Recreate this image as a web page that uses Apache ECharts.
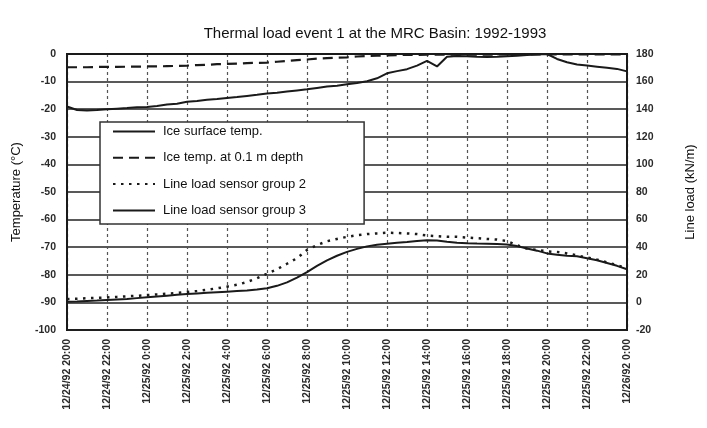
<!DOCTYPE html>
<html>
<head>
<meta charset="utf-8">
<script src="https://cdn.jsdelivr.net/npm/echarts@6/dist/echarts.min.js"></script>
<style>
  html, body { margin: 0; padding: 0; background: #ffffff; }
  #chart { width: 707px; height: 428px; }
</style>
</head>
<body>
<div id="chart"></div>
<script>
// Half-hour time slots from 12/24/92 20:00 to 12/26/92 0:00
var startDay = 24, startHour = 20, slotCount = 57;
var timeSlots = [];
for (var s = 0; s < slotCount; s++) {
  var totalMin = startHour * 60 + s * 30;
  var day = startDay + Math.floor(totalMin / 1440);
  var minOfDay = totalMin % 1440;
  var hh = Math.floor(minOfDay / 60), mm = minOfDay % 60;
  timeSlots.push('12/' + day + '/92 ' + hh + ':' + (mm < 10 ? '0' + mm : mm));
}

// Temperatures (°C), left axis
var iceSurfaceTemp = [
  -19.0, -20.3, -20.5, -20.3, -20.0, -19.8, -19.6, -19.3, -19.2, -18.8,
  -18.3, -18.0, -17.3, -17.0, -16.6, -16.3, -15.9, -15.6, -15.2, -14.8,
  -14.3, -14.0, -13.6, -13.2, -12.8, -12.3, -11.8, -11.5, -11.0, -10.5,
  -9.9, -8.8, -7.0, -6.2, -5.5, -4.2, -2.5, -4.5, -1.0, -0.7,
  -0.8, -1.0, -1.1, -1.0, -0.8, -0.6, -0.4, -0.2, 0.0, -1.8,
  -3.0, -3.8, -4.2, -4.6, -5.0, -5.4, -6.3
];
var iceTempDepth = [
  -4.8, -4.8, -4.8, -4.7, -4.7, -4.7, -4.6, -4.6, -4.5, -4.5,
  -4.4, -4.3, -4.2, -4.0, -3.9, -3.7, -3.6, -3.5, -3.3, -3.2,
  -3.1, -2.8, -2.5, -2.2, -2.0, -1.7, -1.5, -1.3, -1.2, -0.9,
  -0.7, -0.6, -0.5, -0.4, -0.3, -0.3, -0.2, -0.2, -0.2, -0.2,
  -0.2, -0.2, -0.2, -0.2, -0.1, -0.1, -0.1, -0.1, -0.1, -0.1,
  -0.1, -0.1, -0.1, -0.1, -0.1, -0.1, -0.1
];

// Line loads (kN/m), right axis
var loadGroup2 = [
  2.5, 2.7, 3.0, 3.3, 3.6, 4.0, 4.4, 4.8, 5.3, 5.8,
  6.3, 6.8, 7.6, 8.3, 9.2, 10.2, 11.4, 12.8, 14.8, 17.5,
  20.8, 24.0, 28.0, 32.0, 38.0, 41.5, 44.3, 46.0, 47.5, 48.7,
  49.5, 50.0, 50.5, 50.3, 50.0, 49.5, 48.5, 48.0, 47.5, 47.5,
  47.0, 46.5, 46.0, 45.5, 44.5, 41.5, 39.0, 38.0, 37.0, 36.5,
  35.5, 34.0, 32.5, 31.0, 29.0, 27.0, 24.5
];
var loadGroup3 = [
  0.5, 0.7, 1.0, 1.3, 1.7, 2.1, 2.5, 3.1, 3.7, 4.3,
  4.9, 5.5, 6.0, 6.5, 7.0, 7.4, 7.8, 8.2, 8.6, 9.3,
  10.3, 12.0, 14.5, 18.0, 22.0, 26.5, 30.5, 33.8, 36.6, 38.8,
  40.6, 41.8, 42.5, 43.2, 43.8, 44.5, 45.0, 44.8, 44.0, 43.3,
  42.8, 42.6, 42.5, 42.3, 42.0, 40.8, 39.0, 37.5, 35.5, 34.5,
  33.8, 33.5, 32.0, 30.5, 28.5, 26.5, 24.0
];

var seriesNames = [
  'Ice surface temp.',
  'Ice temp. at 0.1 m depth',
  'Line load sensor group 2',
  'Line load sensor group 3'
];

var ink = '#1a1a1a';
var fontFamily = '"Liberation Sans", Arial, sans-serif';

var chart = echarts.init(document.getElementById('chart'));
chart.setOption({
  animation: false,
  backgroundColor: '#ffffff',
  title: {
    text: 'Thermal load event 1 at the MRC Basin: 1992-1993',
    left: 370, top: 21, textAlign: 'center',
    textStyle: { fontFamily: fontFamily, fontSize: 15, fontWeight: 'normal', color: '#111' }
  },
  legend: {
    orient: 'vertical',
    left: 100, top: 122,
    padding: [3, 58, 7, 12],
    itemWidth: 42, itemHeight: 14, itemGap: 13.3,
    backgroundColor: '#ffffff',
    borderColor: '#333', borderWidth: 1.5,
    itemStyle: { opacity: 0 },
    data: seriesNames,
    textStyle: { fontFamily: fontFamily, fontSize: 13, color: '#111', padding: [0, 0, 0, 3] }
  },
  grid: {
    left: 67, right: 80, top: 54, bottom: 98,
    show: true, borderColor: ink, borderWidth: 2, backgroundColor: '#ffffff'
  },
  xAxis: {
    type: 'category',
    data: timeSlots,
    boundaryGap: false,
    axisLine: { show: true, lineStyle: { color: ink, width: 2 } },
    axisTick: { show: false },
    axisLabel: {
      interval: 3, rotate: 90, margin: 9,
      fontFamily: fontFamily, fontSize: 10.5, fontWeight: 'bold', color: '#2a2a2a'
    },
    splitLine: {
      show: true, interval: 3,
      lineStyle: { color: '#555', width: 1.2, type: [3, 3] }
    }
  },
  yAxis: [
    {
      type: 'value', min: -100, max: 0, interval: 10,
      name: 'Temperature (°C)', nameLocation: 'middle', nameGap: 44, nameRotate: 90,
      nameTextStyle: { fontFamily: fontFamily, fontSize: 13, color: '#111' },
      axisLine: { show: true, lineStyle: { color: ink, width: 2 } },
      axisTick: { show: false },
      axisLabel: { margin: 11, fontFamily: fontFamily, fontSize: 10.5, fontWeight: 'bold', color: '#2a2a2a' },
      splitLine: { show: true, lineStyle: { color: '#222', width: 1.6 } }
    },
    {
      type: 'value', min: -20, max: 180, interval: 20,
      name: 'Line load (kN/m)', nameLocation: 'middle', nameGap: 57, nameRotate: 90,
      nameTextStyle: { fontFamily: fontFamily, fontSize: 13, color: '#111' },
      axisLine: { show: true, lineStyle: { color: ink, width: 2 } },
      axisTick: { show: false },
      axisLabel: { margin: 9, fontFamily: fontFamily, fontSize: 10.5, fontWeight: 'bold', color: '#2a2a2a' },
      splitLine: { show: false }
    }
  ],
  series: [
    {
      name: seriesNames[0], type: 'line', yAxisIndex: 0, data: iceSurfaceTemp,
      symbol: 'none', smooth: false,
      lineStyle: { color: ink, width: 2 }, itemStyle: { color: ink }
    },
    {
      name: seriesNames[1], type: 'line', yAxisIndex: 0, data: iceTempDepth,
      symbol: 'none',
      lineStyle: { color: ink, width: 2.2, type: [10, 6] }, itemStyle: { color: ink }
    },
    {
      name: seriesNames[2], type: 'line', yAxisIndex: 1, data: loadGroup2,
      symbol: 'none',
      lineStyle: { color: ink, width: 2.5, type: [2.5, 5.5] }, itemStyle: { color: ink }
    },
    {
      name: seriesNames[3], type: 'line', yAxisIndex: 1, data: loadGroup3,
      symbol: 'none',
      lineStyle: { color: ink, width: 2 }, itemStyle: { color: ink }
    }
  ]
});
</script>
</body>
</html>
